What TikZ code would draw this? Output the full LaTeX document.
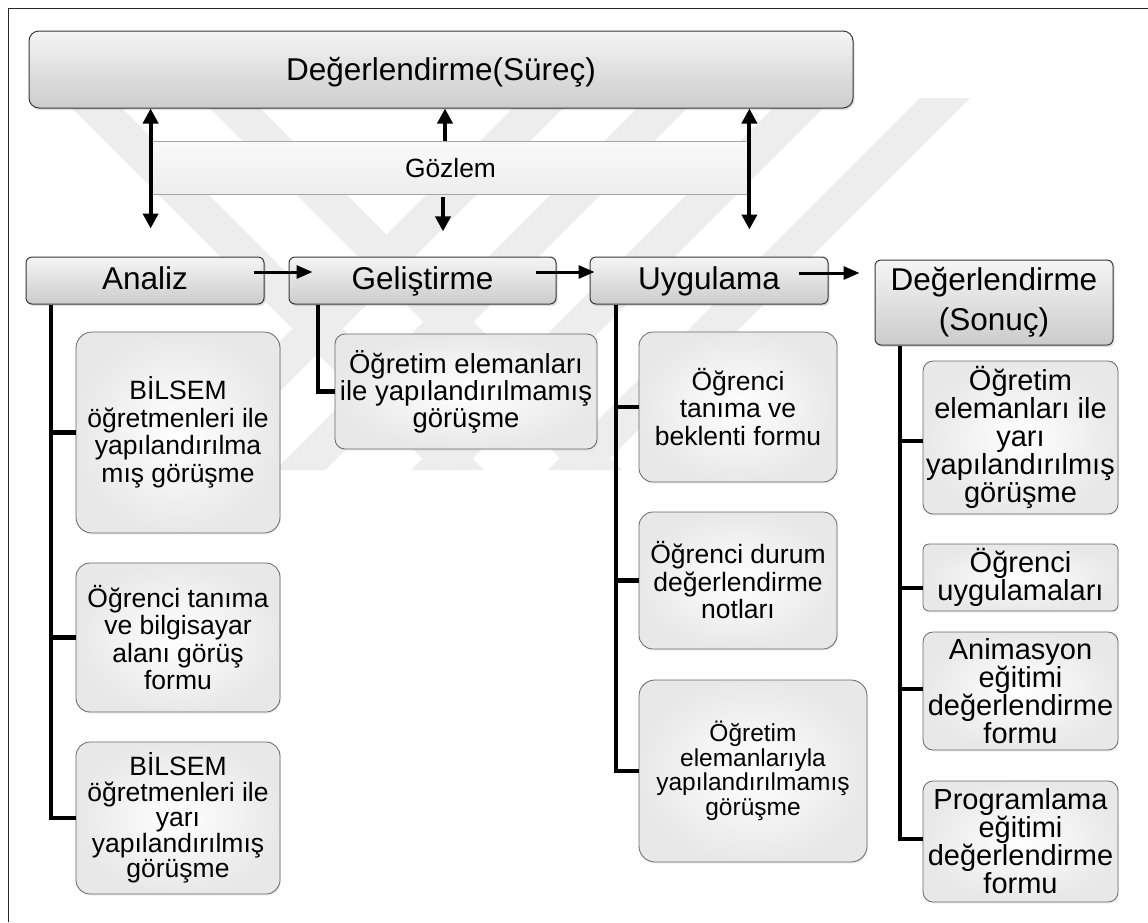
\documentclass[tikz,border=0pt]{standalone}
\usepackage{fontspec}
\setmainfont{Liberation Sans}
\usetikzlibrary{arrows.meta,shadows}

\begin{document}
\begin{tikzpicture}[x=1pt,y=-1pt,
  head/.style={draw=black!78, line width=1pt, rounded corners=#1,
    top color=black!4, bottom color=black!20, inner sep=0pt, align=center,
    drop shadow={opacity=0.25, shadow xshift=1.5pt, shadow yshift=-2pt},
    font=\fontsize{31.5}{36}\selectfont},
  head/.default=6pt,
  oneline/.style={text height=22.5pt, text depth=5.5pt},
  leaf/.style={draw=black!60, line width=0.8pt, rounded corners=#1,
    inner color=white, outer color=black!9, inner sep=0pt, align=center,
    drop shadow={opacity=0.12, shadow xshift=1pt, shadow yshift=-1.5pt}},
  leaf/.default=14pt,
  gozlem/.style={draw=black!35, line width=0.8pt, top color=black!2,
    bottom color=black!7, inner sep=0pt, text height=19pt, text depth=0pt,
    font=\fontsize{26.4}{30}\selectfont},
  wm/.style={fill=black!7},
  conn/.style={line width=4.5pt, line join=miter},
  varrow/.style={line width=4pt,
    {Triangle[width=15pt,length=15pt]}-{Triangle[width=15pt,length=15pt]}},
  uarrow/.style={line width=4pt, -{Triangle[width=15pt,length=15pt]}},
  harrow/.style={line width=3pt, -{Triangle[width=13pt,length=16pt]}}
]
\useasboundingbox (0,0) rectangle (1148,922);
\fill[white] (0,0) rectangle (1148,922);

% faint diagonal background emblem
\begin{scope}
  \clip (40,98) rectangle (1010,470);
  \foreach \x in {62,200}
    \fill[wm] (\x,98) -- ++(50,0) -- ++(372,372) -- ++(-50,0) -- cycle;
  \foreach \x in {523,647,783,920}
    \fill[wm] (\x,98) -- ++(50,0) -- ++(-372,372) -- ++(-50,0) -- cycle;
\end{scope}

% page frame
\draw[black!85, line width=1pt] (8,922) -- (8,8) -- (1148,8);

% process headings
\node[head=10pt, minimum width=824pt, minimum height=77pt, text height=22.5pt, text depth=1.5pt] (top) at (441,69.5) {Değerlendirme(Süreç)};
\node[gozlem, minimum width=597pt, minimum height=53pt] (gz) at (450.5,167.5) {Gözlem};
\node[head, oneline, minimum width=238pt, minimum height=47pt] (an) at (145,280.5) {Analiz};
\node[head, oneline, minimum width=267pt, minimum height=47pt] (ge) at (422.5,280.5) {Geliştirme};
\node[head, oneline, minimum width=238pt, minimum height=47pt] (uy) at (709,280.5) {Uygulama};
\node[head, minimum width=238pt, minimum height=85pt, font=\fontsize{31.5}{40}\selectfont] (ds) at (994,302.5) {Değerlendirme\\(Sonuç)};

% Analiz tools
\begin{scope}[every node/.append style={font=\fontsize{26.5}{27.5}\selectfont}]
\node[leaf=16pt, minimum width=204pt, minimum height=201pt] (a1) at (178,432.5) {BİLSEM\\öğretmenleri ile\\yapılandırılma\\mış görüşme};
\node[leaf, minimum width=204pt, minimum height=149pt] (a2) at (178,637.5) {Öğrenci tanıma\\ve bilgisayar\\alanı görüş\\formu};
\node[leaf, minimum width=204pt, minimum height=152pt, font=\fontsize{26.5}{25.5}\selectfont] (a3) at (178,818) {BİLSEM\\öğretmenleri ile\\yarı\\yapılandırılmış\\görüşme};
\end{scope}

% Geliştirme tool
\node[leaf=10pt, minimum width=262pt, minimum height=115pt, font=\fontsize{27.5}{27}\selectfont] (g1) at (466,391.5) {Öğretim elemanları\\ile yapılandırılmamış\\görüşme};

% Uygulama tools
\begin{scope}[every node/.append style={font=\fontsize{26.5}{27.5}\selectfont}]
\node[leaf, minimum width=198pt, minimum height=150pt] (u1) at (738,407) {Öğrenci\\tanıma ve\\beklenti formu};
\node[leaf, minimum width=198pt, minimum height=137pt] (u2) at (738,580.5) {Öğrenci durum\\değerlendirme\\notları};
\node[leaf=16pt, minimum width=228pt, minimum height=182pt, font=\fontsize{24.5}{24.5}\selectfont] (u3) at (753,771) {Öğretim\\elemanlarıyla\\yapılandırılmamış\\görüşme};
\end{scope}

% Değerlendirme (Sonuç) tools
\begin{scope}[every node/.append style={font=\fontsize{29}{28}\selectfont}]
\node[leaf=10pt, minimum width=195pt, minimum height=153pt] (d1) at (1020.5,437.5) {Öğretim\\elemanları ile\\yarı\\yapılandırılmış\\görüşme};
\node[leaf=6pt, minimum width=195pt, minimum height=67pt] (d2) at (1020.5,577.5) {Öğrenci\\uygulamaları};
\node[leaf=10pt, minimum width=195pt, minimum height=118pt] (d3) at (1020.5,691) {Animasyon\\eğitimi\\değerlendirme\\formu};
\node[leaf=10pt, minimum width=195pt, minimum height=121pt] (d4) at (1020.5,841.5) {Programlama\\eğitimi\\değerlendirme\\formu};
\end{scope}

% trunks and branches
\draw[conn] ([xshift=-94pt]an.south) |- (a1.west);
\draw[conn] ([xshift=-94pt]an.south) |- (a2.west);
\draw[conn] ([xshift=-94pt]an.south) |- (a3.west);
\draw[conn] ([xshift=-104.5pt]ge.south) |- (g1.west);
\draw[conn] ([xshift=-93pt]uy.south) |- (u1.west);
\draw[conn] ([xshift=-93pt]uy.south) |- (u2.west);
\draw[conn] ([xshift=-93pt]uy.south) |- (u3.west);
\draw[conn] ([xshift=-94pt]ds.south) |- ([yshift=-3.5pt]d1.west);
\draw[conn] ([xshift=-94pt]ds.south) |- ([yshift=-10.5pt]d2.west);
\draw[conn] ([xshift=-94pt]ds.south) |- ([yshift=2pt]d3.west);
\draw[conn] ([xshift=-94pt]ds.south) |- ([yshift=2.5pt]d4.west);

% observation arrows
\draw[varrow] ([xshift=-1pt]gz.west |- top.south) -- ++(0,120);
\draw[varrow] (gz.east |- top.south) -- ++(0,121);
\draw[uarrow] ([xshift=-5.5pt]gz.north) -- ([xshift=-5.5pt]gz.north |- top.south);
\draw[uarrow] ([xshift=-7.5pt,yshift=-3pt]gz.south) -- ++(0,34);

% phase sequence arrows
\coordinate (h1) at ([xshift=24pt]ge.west);
\coordinate (h2) at ([xshift=5pt]uy.west);
\coordinate (h3) at ([xshift=-15pt]ds.west);
\draw[harrow] ([xshift=-11pt,yshift=8.5pt]an.east) coordinate (s1) -- (s1 -| h1);
\draw[harrow] ([xshift=-21pt,yshift=8.5pt]ge.east) coordinate (s2) -- (s2 -| h2);
\draw[harrow] ([xshift=-30pt,yshift=7.5pt]uy.east) coordinate (s3) -- (s3 -| h3);
\end{tikzpicture}
\end{document}
